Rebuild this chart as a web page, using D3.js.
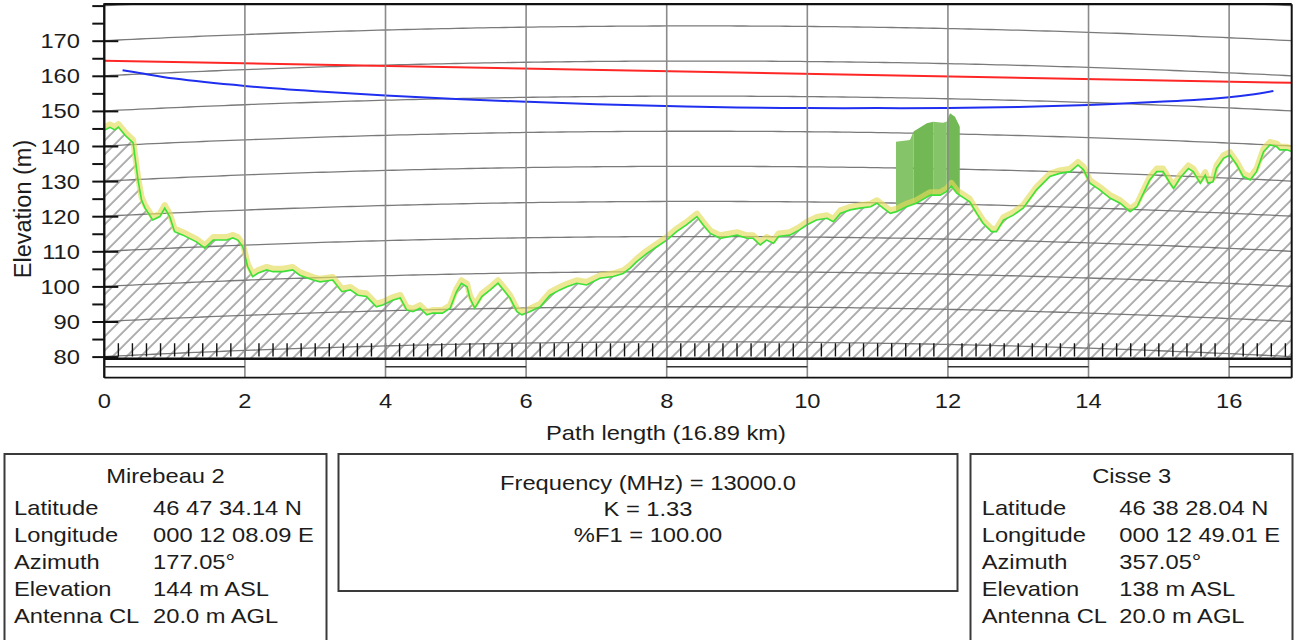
<!DOCTYPE html>
<html>
<head>
<meta charset="utf-8">
<script src="https://cdn.jsdelivr.net/npm/d3@7"></script>
<style>
body { margin: 0; background: #fff; }
svg text { font-family: "Liberation Sans", Arial, sans-serif; fill: #1c1c1c; }
</style>
</head>
<body>
<svg id="profile" width="1297" height="640"></svg>
<script>
// path numbers
var pathLength = 16.89;     // km
var kFactor = 1.33;
var xTicks = [0, 2, 4, 6, 8, 10, 12, 14, 16];
var yLabels = [80, 90, 100, 110, 120, 130, 140, 150, 160, 170];

// terrain as drawn on the curved-earth profile: [km, m]
var terrain = [
    [0.00, 144.5], [0.08, 145.3], [0.15, 144.6], [0.20, 145.4], [0.30, 143.0], [0.41, 140.9],
    [0.48, 130.3], [0.53, 124.6], [0.58, 122.3], [0.69, 118.9], [0.79, 119.9], [0.86, 122.3],
    [0.93, 119.9], [1.00, 115.6], [1.12, 114.6], [1.31, 112.7], [1.43, 110.9], [1.55, 113.2],
    [1.74, 113.2], [1.83, 113.8], [1.90, 113.2], [1.97, 111.3], [2.04, 105.6], [2.11, 102.8],
    [2.19, 103.8], [2.31, 104.7], [2.40, 104.2], [2.54, 104.2], [2.68, 104.7], [2.78, 103.2],
    [2.97, 101.8], [3.07, 101.3], [3.25, 101.8], [3.38, 98.5], [3.50, 99.0], [3.61, 97.5],
    [3.73, 97.1], [3.87, 94.2], [3.96, 94.7], [4.11, 96.1], [4.21, 96.7], [4.30, 93.3],
    [4.39, 92.8], [4.49, 93.8], [4.59, 91.9], [4.67, 92.4], [4.81, 92.4], [4.92, 93.8],
    [5.01, 98.5], [5.08, 100.9], [5.16, 99.9], [5.20, 96.7], [5.27, 93.8], [5.37, 97.1],
    [5.49, 99.0], [5.60, 100.9], [5.68, 99.0], [5.77, 96.7], [5.87, 92.8], [5.94, 91.9],
    [6.05, 92.8], [6.20, 94.2], [6.34, 97.5], [6.48, 99.0], [6.58, 99.9], [6.72, 100.9],
    [6.86, 100.4], [7.05, 102.3], [7.24, 102.8], [7.38, 103.7], [7.48, 105.2], [7.57, 107.0],
    [7.72, 109.4], [7.86, 111.3], [8.00, 113.2], [8.14, 115.6], [8.28, 117.5], [8.43, 119.9],
    [8.52, 117.5], [8.62, 115.1], [8.76, 113.7], [8.90, 114.2], [9.00, 114.6], [9.14, 113.7],
    [9.23, 113.7], [9.33, 111.8], [9.42, 113.2], [9.52, 112.3], [9.59, 114.2], [9.75, 114.6],
    [9.89, 116.1], [9.99, 117.5], [10.13, 118.9], [10.28, 119.4], [10.37, 118.4], [10.47, 120.8],
    [10.61, 121.8], [10.75, 122.3], [10.90, 122.7], [10.99, 123.7], [11.08, 122.3], [11.18, 120.8],
    [11.27, 121.3], [11.41, 122.7], [11.55, 123.7], [11.75, 126.0], [11.89, 126.0], [11.98, 127.0],
    [12.05, 128.6], [12.13, 126.5], [12.22, 125.3], [12.31, 124.1], [12.41, 120.8], [12.50, 118.0],
    [12.62, 115.6], [12.69, 115.6], [12.79, 118.9], [12.93, 120.3], [13.07, 122.3], [13.26, 127.5],
    [13.45, 131.3], [13.59, 132.2], [13.74, 132.7], [13.85, 134.6], [13.93, 133.2], [14.02, 129.4],
    [14.16, 127.5], [14.31, 125.1], [14.45, 123.7], [14.59, 121.3], [14.69, 122.7], [14.78, 126.5],
    [14.87, 130.3], [14.97, 132.7], [15.06, 132.7], [15.16, 129.4], [15.21, 127.9], [15.30, 130.8],
    [15.42, 133.6], [15.49, 132.7], [15.59, 129.4], [15.66, 131.7], [15.70, 129.4], [15.77, 129.8],
    [15.82, 133.6], [15.92, 136.5], [16.01, 137.4], [16.11, 134.6], [16.20, 131.3], [16.30, 130.3],
    [16.39, 132.7], [16.49, 138.4], [16.58, 140.3], [16.68, 139.8], [16.72, 138.9], [16.82, 138.9],
    [16.89, 138.4]
];

// top of the tree block near 12 km: [km, m]
var vegetation = [
    [11.26, 141.2], [11.46, 141.7], [11.51, 144.1], [11.70, 146.5], [11.79, 146.9],
    [11.93, 146.6], [11.98, 146.9], [12.03, 149.3], [12.10, 148.3], [12.17, 145.5]
];
var vegBands = [11.26, 11.51, 11.79, 11.98, 12.17];

// line of sight and lower edge of the first Fresnel zone: [km, m]
var losLine = [[0, 164.3], [16.89, 158.0]];
var fresnelEdge = [
    [0.26, 161.6], [0.5, 160.8], [1, 159.2], [2, 157.1], [3, 155.6], [4, 154.4], [5, 153.4],
    [6, 152.6], [7, 151.9], [8, 151.4], [9, 151.0], [10, 150.8], [11, 150.8], [12, 150.8],
    [13, 151.1], [14, 151.7], [15, 152.6], [15.5, 153.1], [16, 153.9], [16.3, 154.6], [16.63, 155.7]
];

// site tables
var rowNames = ["Latitude", "Longitude", "Azimuth", "Elevation", "Antenna CL"];
var siteAName = "Mirebeau 2";
var siteAValues = ["46 47 34.14 N", "000 12 08.09 E", "177.05°", "144 m ASL", "20.0 m AGL"];
var siteBName = "Cisse 3";
var siteBValues = ["46 38 28.04 N", "000 12 49.01 E", "357.05°", "138 m ASL", "20.0 m AGL"];
var pathInfo = ["Frequency (MHz) = 13000.0", "K = 1.33", "%F1 = 100.00"];

var svg = d3.select("#profile");
var SX = 1.13;   // text in the reference is a little wide

var x = d3.scaleLinear().domain([0, pathLength]).range([104.3, 1291.7]);
var y = d3.scaleLinear().domain([80, 180]).range([356.6, 5.6]);
var yTop = 180.4, yBase = 79.4;

function stext(g, px, py, str, anchor, size) {
    return g.append("text")
        .attr("transform", "translate(" + px + "," + py + ") scale(" + SX + ",1)")
        .attr("text-anchor", anchor || "start")
        .style("font-size", (size || 21) + "px")
        .text(str);
}

var defs = svg.append("defs");
defs.append("clipPath").attr("id", "plotClip")
    .append("rect")
    .attr("x", x(0)).attr("y", y(yTop))
    .attr("width", x(pathLength) - x(0))
    .attr("height", y(yBase) - y(yTop));

var hatch = defs.append("pattern")
    .attr("id", "hatch")
    .attr("patternUnits", "userSpaceOnUse")
    .attr("width", 9.9).attr("height", 10)
    .attr("patternTransform", "rotate(45)");
hatch.append("line")
    .attr("x1", 5).attr("y1", 0).attr("x2", 5).attr("y2", 10)
    .attr("stroke", "#6a6a6a").attr("stroke-width", 1.1);

// area above the ground, used to cut the tree block
var above = d3.area()
    .x(function (d) { return x(d[0]); })
    .y0(y(yTop) - 5)
    .y1(function (d) { return y(d[1]); });
defs.append("clipPath").attr("id", "aboveGround")
    .append("path").attr("d", above(terrain));

var vegArea = d3.area()
    .x(function (d) { return x(d[0]); })
    .y0(y(yBase))
    .y1(function (d) { return y(d[1]); });
defs.append("clipPath").attr("id", "vegShape")
    .append("path").attr("d", vegArea(vegetation));

var plot = svg.append("g").attr("clip-path", "url(#plotClip)");

// earth curvature grid
var line = d3.line()
    .x(function (d) { return x(d[0]); })
    .y(function (d) { return y(d[1]); });
var arcKm = d3.range(0, pathLength, 0.1).concat([pathLength]);
d3.range(80, 190, 10).forEach(function (h) {
    var pts = arcKm.map(function (d) {
        return [d, h + d * (pathLength - d) / (12.74 * kFactor)];
    });
    plot.append("path")
        .attr("d", line(pts))
        .attr("fill", "none")
        .attr("stroke", "#7a7a7a")
        .attr("stroke-width", 1.3);
});

// vertical grid, running down through the scale bar
svg.selectAll(".vgrid")
    .data(xTicks)
    .enter().append("line")
    .attr("class", "vgrid")
    .attr("x1", function (d) { return x(d); })
    .attr("x2", function (d) { return x(d); })
    .attr("y1", y(yTop))
    .attr("y2", 377.7)
    .attr("stroke", function (d) { return d === 0 ? "#222" : "#8a8a8a"; })
    .attr("stroke-width", 1.6);

// hatched ground
var ground = d3.area()
    .x(function (d) { return x(d[0]); })
    .y0(y(yBase))
    .y1(function (d) { return y(d[1]); });
plot.append("path")
    .datum(terrain)
    .attr("d", ground)
    .attr("fill", "url(#hatch)");

// tree block
var veg = plot.append("g").attr("clip-path", "url(#aboveGround)")
    .append("g").attr("clip-path", "url(#vegShape)");
veg.selectAll("rect")
    .data(d3.pairs(vegBands))
    .enter().append("rect")
    .attr("x", function (d) { return x(d[0]); })
    .attr("width", function (d) { return x(d[1]) - x(d[0]); })
    .attr("y", y(yTop))
    .attr("height", y(yBase) - y(yTop))
    .attr("fill", function (d, i) { return i % 2 ? "#72b955" : "#86c46a"; });

// clearance band and ground line
plot.append("path")
    .datum(terrain)
    .attr("d", line)
    .attr("transform", "translate(0,-3)")
    .attr("fill", "none")
    .attr("stroke", "#e4dc5a")
    .attr("stroke-opacity", 0.65)
    .attr("stroke-width", 6)
    .attr("stroke-linejoin", "round");
plot.append("path")
    .datum(terrain)
    .attr("d", line)
    .attr("fill", "none")
    .attr("stroke", "#3ee03a")
    .attr("stroke-width", 1.6);

// small ticks along the base every 0.2 km
var baseTicks = d3.range(1, Math.floor(pathLength / 0.2) + 1).map(function (i) { return i * 0.2; });
plot.selectAll(".btick")
    .data(baseTicks)
    .enter().append("line")
    .attr("class", "btick")
    .attr("x1", function (d) { return x(d); })
    .attr("x2", function (d) { return x(d); })
    .attr("y1", y(80) - 13.3)
    .attr("y2", y(80))
    .attr("stroke", "#111")
    .attr("stroke-width", 1.4);

// line of sight and Fresnel edge
plot.append("path")
    .datum(losLine)
    .attr("d", line)
    .attr("fill", "none")
    .attr("stroke", "#ff2626")
    .attr("stroke-width", 2);
plot.append("path")
    .datum(fresnelEdge)
    .attr("d", line.curve(d3.curveCatmullRom))
    .attr("fill", "none")
    .attr("stroke", "#1f2ff0")
    .attr("stroke-width", 2);
line.curve(d3.curveLinear);

// frame
var frame = svg.append("g").attr("stroke", "#111").attr("fill", "none");
frame.append("line").attr("x1", x(0)).attr("x2", x(pathLength))
    .attr("y1", y(yTop)).attr("y2", y(yTop)).attr("stroke-width", 2.2);
frame.append("line").attr("x1", x(pathLength)).attr("x2", x(pathLength))
    .attr("y1", y(yTop)).attr("y2", 377.7).attr("stroke-width", 2);
frame.append("line").attr("x1", x(0)).attr("x2", x(0))
    .attr("y1", y(yTop) - 1).attr("y2", 377.7).attr("stroke-width", 2.2);
frame.append("line").attr("x1", x(0)).attr("x2", x(pathLength))
    .attr("y1", y(yBase)).attr("y2", y(yBase)).attr("stroke-width", 2.6);

// distance scale bar under the plot
var segs = d3.pairs(xTicks.concat([pathLength])).filter(function (d, i) { return i % 2 === 0; });
frame.selectAll(".seg")
    .data(segs)
    .enter().append("line")
    .attr("x1", function (d) { return x(d[0]); })
    .attr("x2", function (d) { return x(d[1]); })
    .attr("y1", 366.7).attr("y2", 366.7)
    .attr("stroke", "#333").attr("stroke-width", 1.6);
frame.append("line").attr("x1", x(0)).attr("x2", x(pathLength))
    .attr("y1", 377.7).attr("y2", 377.7).attr("stroke-width", 1.8);

// left axis
var yAxis = d3.axisLeft(y)
    .tickValues(d3.range(80, 181, 5))
    .tickSize(12)
    .tickFormat("");
var ya = svg.append("g").attr("transform", "translate(" + x(0) + ",0)").call(yAxis);
ya.select(".domain").remove();
ya.selectAll(".tick line").attr("stroke", "#111").attr("stroke-width", 2);
ya.selectAll(".tick")
    .filter(function (d) { return d % 10 === 0 && d < 180; })
    .append("line")
    .attr("x2", 14)
    .attr("stroke", "#111")
    .attr("stroke-width", 2);

var labels = svg.append("g");
yLabels.forEach(function (v) {
    stext(labels, 80, y(v) + 7.5, v, "end");
});
xTicks.forEach(function (v) {
    stext(labels, x(v), 408, v, "middle");
});
stext(labels, 666, 439.5, "Path length (" + pathLength.toFixed(2) + " km)", "middle");
labels.append("text")
    .attr("transform", "translate(31,209) rotate(-90) scale(1.12,1.13)")
    .attr("text-anchor", "middle")
    .style("font-size", "21px")
    .text("Elevation (m)");

// info boxes
var boxes = svg.append("g");
function siteBox(bx, title, values, titleX, labelX, valueX) {
    boxes.append("rect")
        .attr("x", bx).attr("y", 454)
        .attr("width", 322).attr("height", 220)
        .attr("fill", "none").attr("stroke", "#3a3a3a").attr("stroke-width", 2);
    stext(boxes, titleX, 483, title, "middle");
    rowNames.forEach(function (r, i) {
        stext(boxes, labelX, 515 + i * 27, r, "start");
        stext(boxes, valueX, 515 + i * 27, values[i], "start");
    });
}
siteBox(4.5, siteAName, siteAValues, 165.5, 14, 153);
siteBox(970.5, siteBName, siteBValues, 1131.7, 981.7, 1119.3);

boxes.append("rect")
    .attr("x", 338.5).attr("y", 454)
    .attr("width", 619).attr("height", 137)
    .attr("fill", "none").attr("stroke", "#3a3a3a").attr("stroke-width", 2);
pathInfo.forEach(function (t, i) {
    stext(boxes, 648, 489.5 + i * 26.2, t, "middle");
});
</script>
</body>
</html>
